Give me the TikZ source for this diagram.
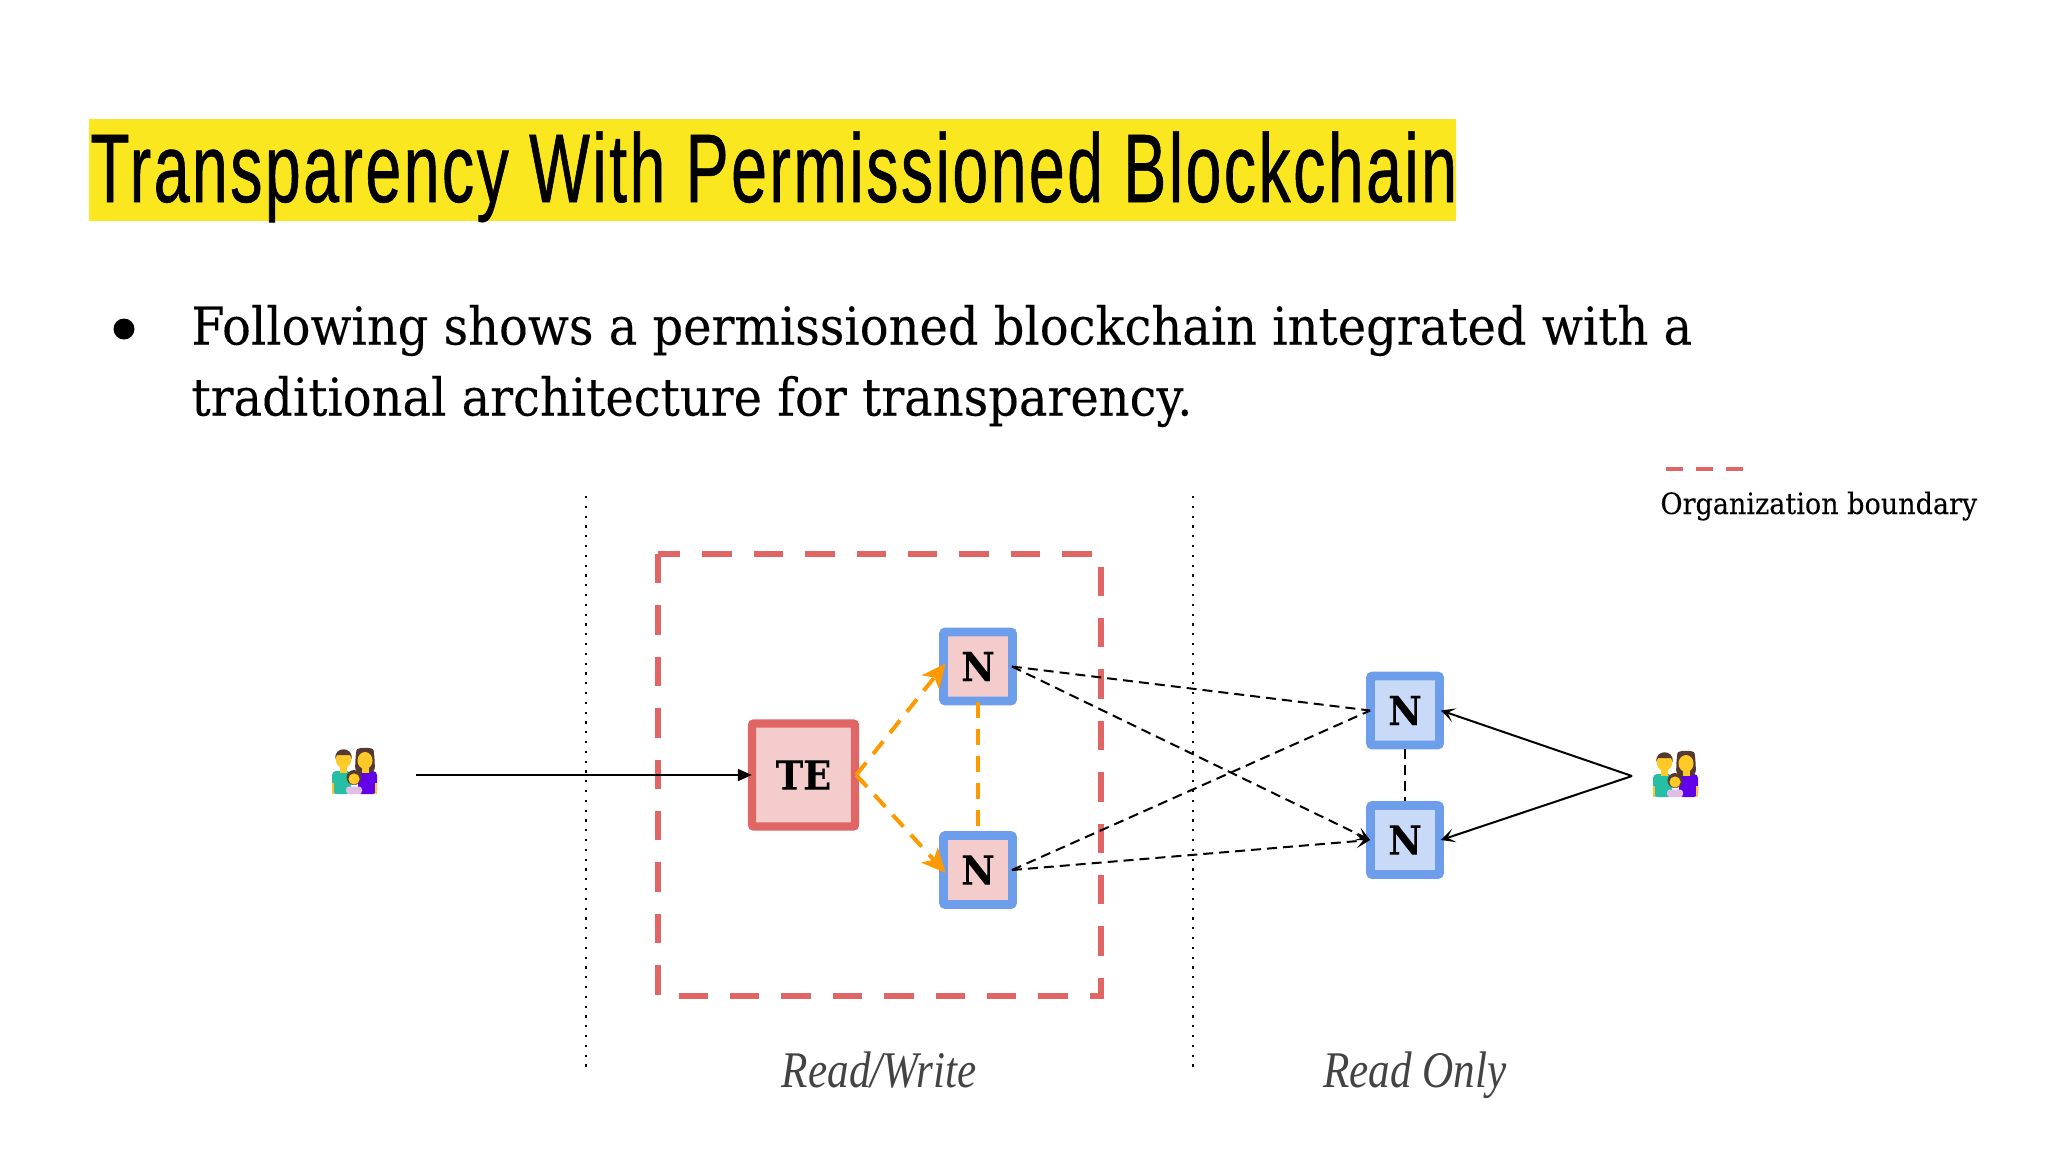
\documentclass[tikz,border=0pt]{standalone}
\usepackage{fontspec}
\setmainfont{DejaVu Serif}[FakeStretch=.92,FakeBold=.15]
\newfontfamily\titlefont{Liberation Sans}[FakeStretch=.66,FakeBold=.6,LetterSpace=2.6]
\newfontfamily\labelfont{Liberation Serif}[FakeStretch=.84]
\usetikzlibrary{arrows.meta}

\definecolor{titleyellow}{HTML}{FAE71F}
\definecolor{orgred}{HTML}{E06666}
\definecolor{paleRed}{HTML}{F4CCCC}
\definecolor{nodeblue}{HTML}{6D9EEB}
\definecolor{paleblue}{HTML}{C9DAF8}
\definecolor{writeorange}{HTML}{FF9900}
\definecolor{labelgray}{HTML}{434343}
\definecolor{hairbrown}{HTML}{543930}
\definecolor{skinyellow}{HTML}{FFCA28}
\definecolor{shirtteal}{HTML}{26BFA5}
\definecolor{shirtpurple}{HTML}{6200EA}
\definecolor{shirtpale}{HTML}{E1BEE7}

\tikzset{
  tebox/.style={draw=orgred, fill=paleRed, line width=4.2pt, rounded corners=1pt,
    minimum size=51.5pt, inner sep=0pt,
    font=\fontsize{20}{20}\selectfont\bfseries},
  writebox/.style={draw=nodeblue, fill=paleRed, line width=4.4pt, rounded corners=1pt,
    minimum size=34.5pt, inner sep=0pt, font=\fontsize{20}{20}\selectfont\bfseries},
  readbox/.style={writebox, fill=paleblue},
  orgline/.style={draw=orgred, line width=3pt, dash pattern=on 14.7pt off 11pt},
  orgkey/.style={draw=orgred, line width=2pt, dash pattern=on 8.5pt off 6.5pt},
  zoneline/.style={line width=1.1pt, dash pattern=on 1.1pt off 3.8pt},
  writeline/.style={draw=writeorange, line width=2pt, dash pattern=on 8pt off 5.5pt},
  linkline/.style={line width=1pt, dash pattern=on 5pt off 3pt},
  bigtip/.style={-{Stealth[length=12pt,width=11pt,inset=3pt]}, shorten >=-2pt},
  solidtip/.style={-{Stealth[length=7pt,width=6pt,inset=0pt]}},
  opentip/.style={-{Stealth[length=7pt,width=7pt,inset=3.5pt]}},
  family/.pic={
    % woman
    \fill[shirtpurple, rounded corners=2pt] (26,23) rectangle (45,46);
    \fill[skinyellow] (43,35) rectangle (45,46);
    \fill[hairbrown, rounded corners=3pt] (23,25) -- (23.5,8) .. controls (25,-1) and (41,-1) .. (42.5,8) -- (43,25) -- cycle;
    \fill[skinyellow] (33,12.5) ellipse (7.5 and 8.5);
    \fill[skinyellow] (29.5,18) rectangle (36.5,25);
    % man
    \fill[shirtteal, rounded corners=2pt] (0,23) rectangle (19,46);
    \fill[skinyellow] (0,35) rectangle (2,46);
    \fill[skinyellow] (8,18) rectangle (15,25);
    \fill[skinyellow] (11.5,11.5) ellipse (7.8 and 8.5);
    \fill[hairbrown] (3.2,11) .. controls (2,-2) and (21,-2) .. (19.8,11) -- (18,7) -- (5,7) -- cycle;
    % child
    \fill[shirtpale, rounded corners=1.5pt] (14,38.5) rectangle (30,46);
    \fill[hairbrown] (22,29.5) circle (7.5);
    \fill[skinyellow] (22,31) circle (5.6);
  }
}

\begin{document}
\begin{tikzpicture}[x=0.5pt,y=-0.5pt]
\useasboundingbox (0,0) rectangle (2048,1152);

\coordinate (U) at (416,775);
\coordinate (J) at (1632,776);
\coordinate (P) at (586,496);
\coordinate (Q) at (586,1072);
\coordinate (R) at (1193,496);
\coordinate (S) at (1193,1072);
\coordinate (K) at (1666,469);
\coordinate (L) at (1745,469);

% Title and bullet text
\fill[titleyellow] (89,119) rectangle (1456,221);
\node (title) [anchor=base west, inner sep=0pt] at (90,202)
  {\titlefont\fontsize{48.7}{48.7}\selectfont Transparency With Permissioned Blockchain};
\node (bullet) [circle, fill=black, inner sep=0pt, minimum size=10.5pt] at (124,329) {};
\node (lineA) [anchor=base west, inner sep=0pt] at (191,344.5)
  {\fontsize{26.05}{26.05}\selectfont Following shows a permissioned blockchain integrated with a};
\node (lineB) [anchor=base west, inner sep=0pt] at (191,415.5)
  {\fontsize{26.05}{26.05}\selectfont traditional architecture for transparency.};

% Legend
\draw[orgkey] (K) -- (L);
\node (key) [anchor=base west, inner sep=0pt] at (1660,514)
  {\fontsize{14.7}{14.7}\selectfont Organization boundary};

% Zones and the organization boundary
\draw[zoneline] (P) -- (Q);
\draw[zoneline] (R) -- (S);
\draw[orgline] (658,554) rectangle (1101,996);
\node (rw) [anchor=base, inner sep=0pt, text=labelgray] at (879,1087)
  {\labelfont\itshape\fontsize{25.7}{25.7}\selectfont Read/Write};
\node (ro) [anchor=base, inner sep=0pt, text=labelgray] at (1415,1087)
  {\labelfont\itshape\fontsize{25.7}{25.7}\selectfont Read Only};

% Boxes
\node (TE) [tebox] at (803.5,775) {TE};
\node (A) [writebox] at (978,666.5) {N};
\node (B) [writebox] at (978,870) {N};
\node (C) [readbox] at (1405,710.5) {N};
\node (D) [readbox] at (1405,840) {N};

% Users on both sides
\pic at (332,748) {family};
\pic at (1653,751) {family};

% Solid links
\draw[solidtip, line width=1pt] (U) -- ([xshift=2pt]TE.west);
\draw[opentip, line width=1pt] (J) -- ([xshift=-1.5pt]C.east);
\draw[opentip, line width=1pt] (J) -- ([xshift=-1.5pt]D.east);

% Orange links inside the boundary
\draw[writeline, bigtip] ([xshift=-1.5pt]TE.east) -- ([xshift=2pt]A.west);
\draw[writeline, bigtip] ([xshift=-1.5pt]TE.east) -- ([xshift=2pt]B.west);
\draw[writeline] ([yshift=1.5pt]A.south) -- ([yshift=-2pt]B.north);

% Dashed links between the nodes
\draw[linkline] ([xshift=-2.5pt]A.east) -- ([xshift=2pt]C.west);
\draw[linkline, opentip] ([xshift=-2.5pt]A.east) -- ([xshift=2pt]D.west);
\draw[linkline] ([xshift=-2.5pt]B.east) -- ([xshift=2pt]C.west);
\draw[linkline, opentip] ([xshift=-2.5pt]B.east) -- ([xshift=2pt]D.west);
\draw[linkline] (C.south) -- (D.north);
\end{tikzpicture}
\end{document}
